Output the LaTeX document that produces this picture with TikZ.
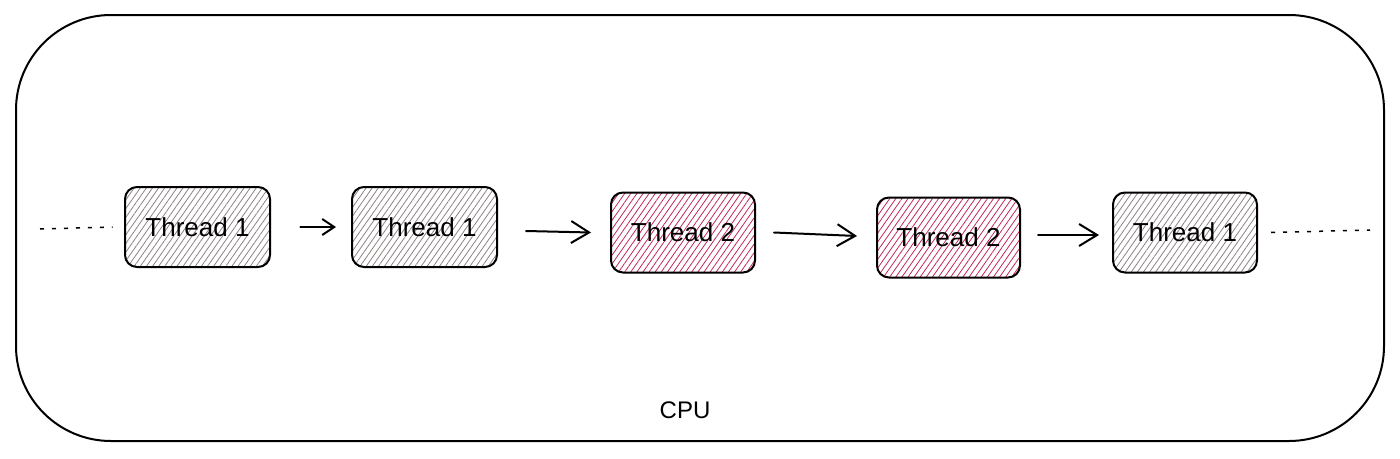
\documentclass[tikz,border=0pt]{standalone}
\usepackage{fontspec}
\setmainfont{Liberation Sans}
\usetikzlibrary{patterns.meta,arrows.meta}
\definecolor{hatchgray}{HTML}{8C8282}
\definecolor{hatchred}{HTML}{C2255C}
\tikzset{
  thread/.style={draw=black, line width=2pt, rounded corners=12pt,
    minimum width=145pt, minimum height=80pt, inner sep=0pt,
    font=\fontsize{26}{29}\selectfont},
  grayhatch/.style={thread, pattern={Lines[angle=55,distance=5pt,line width=0.8pt]}, pattern color=hatchgray},
  redhatch/.style={thread, pattern={Lines[angle=55,distance=5pt,line width=0.8pt]}, pattern color=hatchred},
  arr/.style={line width=2pt, line cap=round, -{Straight Barb[length=12pt,width=16pt,line width=2pt]}},
  bigarr/.style={line width=2pt, line cap=round, -{Straight Barb[length=18pt,width=22pt,line width=2pt]}},
  dots/.style={line width=1.5pt, dash pattern=on 4pt off 8pt},
}
\begin{document}
\begin{tikzpicture}[x=1pt,y=-1pt]
\useasboundingbox (0,0) rectangle (1400,458);
\draw[line width=2pt, rounded corners=95pt] (16,15) rectangle (1384,441);
\node[grayhatch] (t1) at (197.5,227) {Thread 1};
\node[grayhatch] (t2) at (424.5,227) {Thread 1};
\node[redhatch, minimum width=144pt] (t3) at (683,232.5) {Thread 2};
\node[redhatch, minimum width=143pt] (t4) at (948.5,237.5) {Thread 2};
\node[grayhatch, minimum width=144pt] (t5) at (1185,232.5) {Thread 1};
\node[font=\fontsize{24}{27}\selectfont] (cpu) at (685,410) {CPU};
\coordinate (dl) at (40,229);
\coordinate (dr) at (1370,230);
\draw[dots] (dl) -- ([xshift=-12pt]t1.west);
\draw[dots] ([xshift=13pt]t5.east) -- (dr);
\draw[arr] ([xshift=30pt]t1.east) -- ([xshift=-15pt]t2.west);
\draw[bigarr] ([xshift=28pt,yshift=-4pt]t2.east) -- ([xshift=-19pt]t3.west);
\draw[bigarr] ([xshift=18pt]t3.east) -- ([xshift=-19pt,yshift=1.5pt]t4.west);
\draw[bigarr] ([xshift=17pt,yshift=2.5pt]t4.east) -- ([xshift=-13pt,yshift=-2.5pt]t5.west);
\end{tikzpicture}
\end{document}
